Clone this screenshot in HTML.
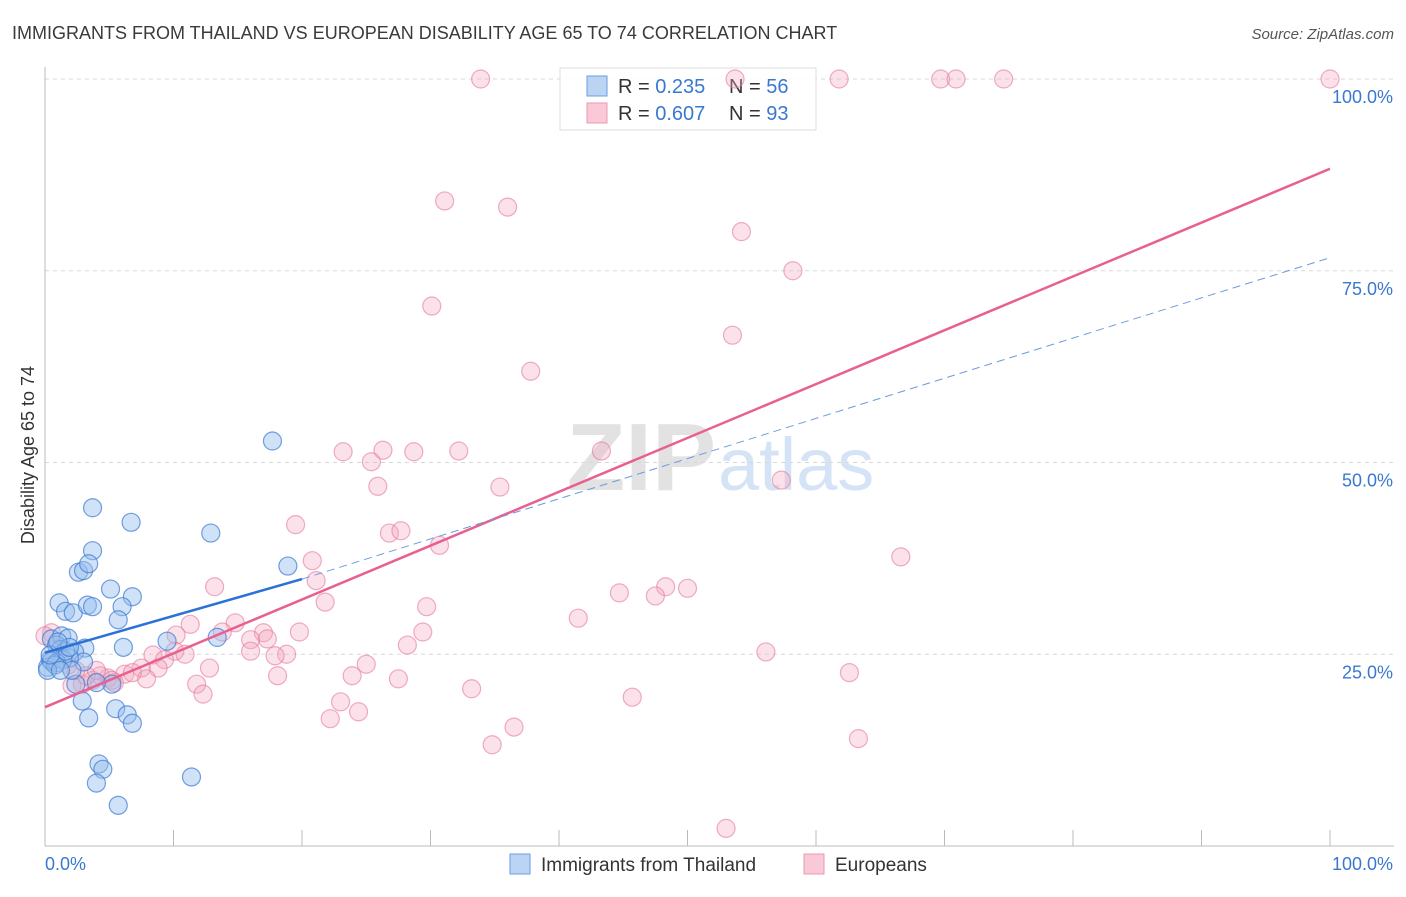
<!DOCTYPE html>
<html><head><meta charset="utf-8"><style>
body{margin:0;background:#fff;font-family:"Liberation Sans",sans-serif;}
svg text{font-family:"Liberation Sans",sans-serif;}
</style></head><body>
<svg id="chart" width="1406" height="892" xmlns="http://www.w3.org/2000/svg">
<text x="12" y="39" font-size="18" fill="#3a3a3a">IMMIGRANTS FROM THAILAND VS EUROPEAN DISABILITY AGE 65 TO 74 CORRELATION CHART</text>
<text x="1394" y="39" font-size="15" fill="#555" font-style="italic" text-anchor="end">Source: ZipAtlas.com</text>
<text x="716" y="490" font-size="96" fill="#e2e2e2" text-anchor="end" font-family="Liberation Serif" font-weight="bold">ZIP</text>
<text x="718" y="490" font-size="74" fill="#d5e3f6">atlas</text>
<g id="grid"></g>
<g id="axes"></g>
<g>
<rect x="560" y="68" width="256" height="62" fill="rgba(255,255,255,0.85)" stroke="#ddd"/>
<rect x="587" y="76" width="20" height="20" fill="#bcd4f4" stroke="#6a9ee0"/>
<rect x="587" y="103" width="20" height="20" fill="#f9c9d7" stroke="#ec98b1"/>
<text x="618" y="93" font-size="20" fill="#333">R = <tspan fill="#3a78d0">0.235</tspan></text>
<text x="729" y="93" font-size="20" fill="#333">N = <tspan fill="#3a78d0">56</tspan></text>
<text x="618" y="120" font-size="20" fill="#333">R = <tspan fill="#3a78d0">0.607</tspan></text>
<text x="729" y="120" font-size="20" fill="#333">N = <tspan fill="#3a78d0">93</tspan></text>
</g>
<g id="marks"></g>
<text transform="translate(34,455) rotate(-90)" font-size="18" fill="#333" text-anchor="middle">Disability Age 65 to 74</text>
<g>
<rect x="510" y="854" width="20" height="20" fill="#bcd4f4" stroke="#6a9ee0"/>
<text x="541" y="871" font-size="19" fill="#333">Immigrants from Thailand</text>
<rect x="804" y="854" width="20" height="20" fill="#f9c9d7" stroke="#ec98b1"/>
<text x="835" y="871" font-size="19" fill="#333">Europeans</text>
</g>
</svg>
<script>
const yTicks=[25,50,75,100];
const yTickLabels=["25.0%","50.0%","75.0%","100.0%"];
const xTickCount=10;
const blueX=[3.7,6.7,12.9,17.7,3.7,2.6,3.0,3.4,5.1,6.8,1.1,1.6,2.2,3.3,3.7,6.0,5.7,9.5,13.4,6.1,0.5,1.3,1.8,0.9,1.2,3.1,2.3,0.4,0.2,0.5,3.0,1.9,1.4,0.9,2.4,5.2,2.9,3.4,5.5,6.4,6.8,4.2,4.5,4.0,11.4,5.7,18.9,0.8,1.6,1.9,0.2,2.1,1.2,0.4,4.0,1.0];
const blueY=[44.1,42.2,40.8,52.8,38.5,35.7,35.9,36.8,33.5,32.5,31.7,30.6,30.4,31.4,31.2,31.2,29.5,26.7,27.2,25.9,27.0,27.4,27.1,26.2,25.6,25.8,25.3,24.3,23.3,24.1,24.0,24.5,24.3,23.9,21.1,21.1,18.9,16.7,17.9,17.1,16.0,10.7,10.0,8.2,9.0,5.3,36.5,23.6,25.4,25.9,22.9,22.9,22.9,24.9,21.3,26.6];
const pinkX=[33.9,53.7,61.8,69.7,70.9,74.6,100,31.1,36.0,54.2,58.2,30.1,53.5,37.8,23.2,26.3,28.7,32.2,25.4,25.9,35.4,43.3,57.3,19.5,26.8,27.7,30.7,20.8,21.1,21.8,13.2,29.7,44.7,48.3,50.0,47.5,41.5,66.6,11.3,14.8,17.0,17.3,19.8,29.4,28.2,56.1,13.8,16.0,10.2,8.4,10.1,10.9,16.0,18.8,17.9,9.3,8.8,12.8,7.5,7.9,6.2,6.8,4.9,5.4,4.3,2.9,3.7,2.1,3.2,0.5,25.0,23.9,18.1,27.5,11.8,12.3,33.2,45.7,62.6,23.0,24.4,22.2,36.5,34.8,63.3,53.0,0,1.2,1.8,2.4,0.8,5.2,4.0];
const pinkY=[100,100,100,100,100,100,100,84.1,83.3,80.1,75.0,70.4,66.6,61.9,51.4,51.6,51.4,51.5,50.1,46.9,46.8,51.5,47.7,41.9,40.8,41.1,39.2,37.2,34.6,31.8,33.8,31.2,33.0,33.8,33.6,32.6,29.7,37.7,28.9,29.1,27.8,27.0,27.9,27.9,26.2,25.3,27.9,26.9,27.5,24.9,25.4,25.0,25.4,25.0,24.8,24.3,23.2,23.2,23.2,21.8,22.4,22.6,21.9,21.3,22.2,21.1,21.6,20.9,22.2,27.8,23.7,22.2,22.2,21.8,21.1,19.8,20.5,19.4,22.6,18.8,17.5,16.6,15.5,13.2,14.0,2.3,27.4,25.8,23.6,22.9,24.3,21.6,22.9];
const blueTrend=[25.2,34.8,76.7]; // at x=0, x=20 (solid end), x=100
const pinkTrend=[18.1,88.3]; // at x=0, x=100

const NS="http://www.w3.org/2000/svg";
const X=v=>45+v*12.85;
const Y=v=>846-v*7.67;
function mk(tag,attrs,parent){const e=document.createElementNS(NS,tag);for(const k in attrs)e.setAttribute(k,attrs[k]);parent.appendChild(e);return e;}
const grid=document.getElementById('grid'),axes=document.getElementById('axes'),marks=document.getElementById('marks');
yTicks.forEach((t,i)=>{
  const l=mk('line',{x1:45,x2:1394,y1:Y(t),y2:Y(t),stroke:'#d8d8d8','stroke-dasharray':'4,4'},grid);
  
  
  const tx=mk('text',{x:1393,y:Y(t)+24,'font-size':18,fill:'#3a78d0','text-anchor':'end'},axes);
  tx.textContent=yTickLabels[i];
  
  
});
const ax=mk('line',{x1:45,x2:1394,y1:846,y2:846,stroke:'#bbb'},axes);


const ay=mk('line',{x1:45,x2:45,y1:67,y2:846,stroke:'#bbb'},axes);


for(let i=0;i<=xTickCount;i++){
  const v=i*100/xTickCount;
  const t=mk('line',{x1:X(v),x2:X(v),y1:830,y2:846,stroke:'#bbb'},axes);
  
  
}
const xl=mk('text',{x:45,y:870,'font-size':18,fill:'#3a78d0'},axes);xl.textContent='0.0%';


const xr=mk('text',{x:1393,y:870,'font-size':18,fill:'#3a78d0','text-anchor':'end'},axes);xr.textContent='100.0%';



pinkX.forEach((x,i)=>{
  const c=mk('circle',{cx:X(x),cy:Y(pinkY[i]),r:9,fill:'rgba(244,170,192,0.35)',stroke:'rgba(230,120,155,0.6)','stroke-width':1.2},marks);
  
  
});
blueX.forEach((x,i)=>{
  const c=mk('circle',{cx:X(x),cy:Y(blueY[i]),r:9,fill:'rgba(150,190,238,0.45)',stroke:'rgba(60,120,210,0.7)','stroke-width':1.2},marks);
  
  
});
const pl=mk('line',{x1:X(0),y1:Y(pinkTrend[0]),x2:X(100),y2:Y(pinkTrend[1]),stroke:'#e8608f','stroke-width':2.5},marks);


const bl=mk('line',{x1:X(0),y1:Y(blueTrend[0]),x2:X(20),y2:Y(blueTrend[1]),stroke:'#2a72d8','stroke-width':2.5},marks);


const bd=mk('line',{x1:X(20),y1:Y(blueTrend[1]),x2:X(100),y2:Y(blueTrend[2]),stroke:'#6a9be0','stroke-width':1,'stroke-dasharray':'8,5'},marks);


</script>
</body></html>
